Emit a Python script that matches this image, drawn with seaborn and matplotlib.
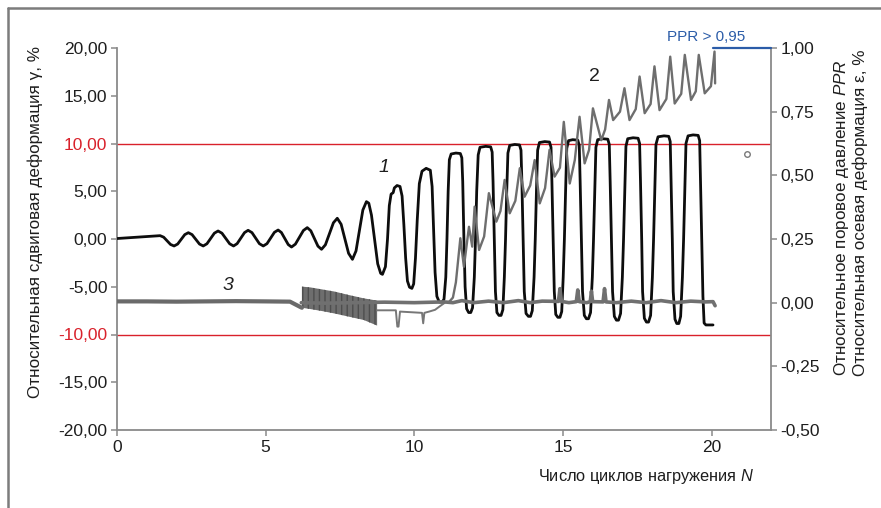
import matplotlib
matplotlib.use("Agg")
import matplotlib.pyplot as plt
from matplotlib.lines import Line2D
from matplotlib.ticker import FuncFormatter, FixedLocator
import seaborn as sns
import pandas as pd

# ---------------- data ----------------
# Curve 1: shear strain gamma, % (left axis) vs number of loading cycles N
shear_N = [0.00, 0.50, 1.00, 1.45,
           1.57, 1.685, 1.80, 1.92, 2.04, 2.16, 2.28, 2.40,
           2.525, 2.65, 2.775, 2.90, 3.025, 3.15, 3.275, 3.40,
           3.53, 3.66, 3.79, 3.92, 4.04, 4.165, 4.29, 4.41,
           4.54, 4.665, 4.79, 4.92, 5.045, 5.17, 5.295, 5.42,
           5.53, 5.645, 5.76, 5.87, 6.00, 6.135, 6.27, 6.40,
           6.52, 6.64, 6.76, 6.88, 7.01, 7.145, 7.28, 7.41,
           7.54, 7.665, 7.79, 7.92, 8.04, 8.155, 8.27, 8.39, 8.47,
           8.56, 8.66, 8.77, 8.87, 8.93,
           9.03, 9.10, 9.16, 9.22, 9.29, 9.33, 9.42, 9.52,
           9.59, 9.65, 9.71, 9.77, 9.84, 9.92,
           9.98, 10.04, 10.10, 10.17, 10.26, 10.40, 10.54,
           10.60, 10.65, 10.70, 10.76, 10.84, 10.94, 11.00,
           11.06, 11.10, 11.14, 11.18, 11.24, 11.40, 11.55, 11.60, 11.63, 11.67, 11.71, 11.76, 11.83, 11.90, 11.96,
           12.02, 12.06, 12.10, 12.15, 12.21, 12.40, 12.57, 12.62, 12.65, 12.69, 12.73, 12.78, 12.85, 12.92, 12.98,
           13.03, 13.07, 13.11, 13.15, 13.21, 13.38, 13.54, 13.59, 13.62, 13.66, 13.70, 13.76, 13.84, 13.91, 13.97,
           14.03, 14.07, 14.11, 14.15, 14.21, 14.39, 14.55, 14.60, 14.63, 14.67, 14.71, 14.76, 14.83, 14.90, 14.96,
           15.01, 15.05, 15.09, 15.13, 15.19, 15.33, 15.50, 15.55, 15.58, 15.62, 15.66, 15.72, 15.79, 15.86, 15.93,
           15.99, 16.03, 16.07, 16.11, 16.17, 16.34, 16.51, 16.56, 16.59, 16.63, 16.67, 16.73, 16.80, 16.87, 16.94,
           17.00, 17.04, 17.08, 17.12, 17.18, 17.36, 17.53, 17.58, 17.61, 17.65, 17.68, 17.74, 17.81, 17.88, 17.95,
           18.01, 18.05, 18.09, 18.13, 18.20, 18.40, 18.56, 18.61, 18.64, 18.68, 18.71, 18.77, 18.83, 18.90, 18.96,
           19.02, 19.06, 19.10, 19.14, 19.21, 19.38, 19.55, 19.60, 19.63, 19.67, 19.71, 19.75, 19.81, 20.05]
shear_gamma = [0.05, 0.15, 0.25, 0.35,
               0.19, -0.19, -0.57, -0.73, -0.53, -0.035, 0.46, 0.66,
               0.46, -0.035, -0.53, -0.73, -0.50, 0.055, 0.61, 0.84,
               0.61, 0.055, -0.50, -0.73, -0.49, 0.09, 0.67, 0.91,
               0.67, 0.09, -0.49, -0.73, -0.49, 0.105, 0.70, 0.94,
               0.68, 0.05, -0.58, -0.84, -0.54, 0.175, 0.89, 1.19,
               0.86, 0.055, -0.75, -1.08, -0.61, 0.545, 1.70, 2.17,
               1.54, 0.02, -1.50, -2.13, -1.25, 0.89, 3.03, 3.91, 3.75,
               2.5, 0.1, -2.6, -3.6, -3.70,
               -2.9, 0.0, 3.5, 4.7, 4.85, 5.35, 5.6, 5.5,
               4.5, 1.5, -2.0, -4.4, -5.05, -5.17,
               -4.7, -2.0, 2.0, 5.8, 7.1, 7.4, 7.2,
               5.5, 1.0, -3.5, -6.0, -6.6, -6.6, -6.3,
               -4.0, 0.0, 5.0, 8.3, 8.9, 9.0, 8.95, 8.5, 6.0, 0.0, -5.0, -7.3, -7.7, -7.7, -7.2,
               -4.0, 0.0, 5.0, 8.8, 9.6, 9.7, 9.65, 9.1, 6.0, 0.0, -5.5, -7.7, -8.0, -8.0, -7.4,
               -4.0, 0.0, 5.0, 9.0, 9.8, 9.9, 9.85, 9.3, 6.0, 0.0, -5.5, -7.8, -8.1, -8.1, -7.5,
               -4.0, 0.0, 5.0, 9.3, 10.1, 10.2, 10.15, 9.6, 6.0, 0.0, -5.5, -7.9, -8.2, -8.2, -7.6,
               -4.0, 0.0, 5.0, 9.5, 10.3, 10.4, 10.35, 9.8, 6.0, 0.0, -5.5, -8.0, -8.35, -8.35, -7.7,
               -4.0, 0.0, 5.0, 9.6, 10.4, 10.5, 10.45, 9.9, 6.0, 0.0, -5.5, -8.1, -8.5, -8.5, -7.8,
               -4.0, 0.0, 5.0, 9.7, 10.5, 10.6, 10.55, 10.0, 6.0, 0.0, -5.5, -8.3, -8.7, -8.7, -8.0,
               -4.0, 0.0, 5.0, 9.9, 10.7, 10.8, 10.75, 10.2, 6.0, 0.0, -5.5, -8.4, -8.85, -8.85, -8.1,
               -4.0, 0.0, 5.0, 10.0, 10.8, 10.9, 10.85, 10.3, 6.0, 0.0, -6.0, -8.8, -9.0, -9.0]

# Curve 2: pore pressure ratio PPR (right axis)
ppr_N = [11.15, 11.30, 11.40, 11.55, 11.67, 11.84, 11.95, 12.03, 12.18, 12.35, 12.51,
         12.76, 12.90, 13.04, 13.21, 13.40, 13.55, 13.71, 13.90, 14.05, 14.22,
         14.40, 14.55, 14.72, 14.90, 15.03, 15.23, 15.40, 15.56, 15.73, 15.88,
         16.01, 16.29, 16.42, 16.55, 16.69, 16.92, 17.07, 17.24, 17.45, 17.58,
         17.75, 17.95, 18.08, 18.25, 18.48, 18.61, 18.76, 18.98, 19.10, 19.31,
         19.47, 19.57, 19.77, 19.98, 20.10, 20.12]
ppr = [0.00, 0.02, 0.08, 0.253, 0.141, 0.298, 0.22, 0.377, 0.207, 0.26, 0.43,
       0.318, 0.36, 0.482, 0.351, 0.40, 0.528, 0.416, 0.46, 0.56, 0.39,
       0.45, 0.60, 0.495, 0.53, 0.71, 0.468, 0.56, 0.73, 0.547, 0.60,
       0.763, 0.638, 0.68, 0.796, 0.717, 0.75, 0.842, 0.717, 0.76, 0.888,
       0.744, 0.78, 0.928, 0.756, 0.80, 0.966, 0.782, 0.82, 0.973, 0.796,
       0.83, 0.973, 0.822, 0.85, 0.986, 0.861]

# Curve 3: axial strain epsilon, % (right axis)
axial_N = [0.0, 1.0, 2.0, 3.0, 4.0, 5.0, 5.82, 6.15, 6.22]
axial_eps = [0.005, 0.005, 0.004, 0.005, 0.006, 0.005, 0.004, -0.016, -0.02]
axial_lower_N = [8.75, 9.38, 9.43, 9.47, 9.52, 10.26, 10.30, 10.34, 10.50, 10.70, 10.85, 11.03]
axial_lower_eps = [-0.03, -0.03, -0.094, -0.094, -0.035, -0.04, -0.081, -0.04, -0.035, -0.028, -0.015, 0.0]
axial_base_N = [6.20, 7.0, 8.0, 9.0, 10.0, 11.0, 11.3, 11.6, 12.0, 12.5, 13.0, 13.5,
                13.9, 14.3, 14.85, 14.90, 14.95, 15.2, 15.45, 15.50, 15.55, 15.8,
                15.92, 15.96, 16.0, 16.35, 16.40, 16.45, 16.8, 17.3, 17.8, 18.3,
                18.8, 19.3, 19.8, 20.05, 20.12]
axial_base_eps = [0.0, -0.002, 0.0, 0.002, 0.0, 0.003, 0.0, 0.008, 0.0, 0.006, 0.0, 0.008,
                  0.0, 0.006, 0.005, 0.055, 0.005, 0.0, 0.004, 0.05, 0.004, 0.0,
                  0.004, 0.045, 0.004, 0.003, 0.055, 0.003, 0.0, 0.006, 0.0, 0.008,
                  0.0, 0.006, 0.003, 0.004, -0.012]
band_N = [6.22, 6.5, 6.9, 7.3, 7.8, 8.3, 8.75]
band_top = [0.063, 0.06, 0.052, 0.044, 0.03, 0.017, 0.008]
band_bottom = [-0.02, -0.025, -0.033, -0.042, -0.055, -0.068, -0.09]

gamma_ticks = [-20, -15, -10, -5, 0, 5, 10, 15, 20]
eps_ticks = [-0.5, -0.25, 0.0, 0.25, 0.5, 0.75, 1.0]
n_ticks = [0, 5, 10, 15, 20]
limit_gamma = [10, -10]
odd_point_N = [21.2]
odd_point_gamma = [8.9]

# ---------------- style ----------------
sns.set_theme(style="white")
plt.rcParams["font.family"] = ["Liberation Sans", "DejaVu Sans"]
plt.rcParams["mathtext.fontset"] = "custom"
plt.rcParams["mathtext.rm"] = "Liberation Sans"
plt.rcParams["mathtext.it"] = "Liberation Sans:italic"

GRAY_AX = "#8a8a8a"
TXT = "#1e1e1e"
RED = "#d9212b"
BLUE = "#2b5ca8"
TICK_FS = 12.5
LAB_FS = 12.3

fig = plt.figure(figsize=(8.81, 5.08), dpi=100)
ax = fig.add_axes([117 / 881, 1 - 430 / 508, (771 - 117) / 881, (430 - 48) / 508])
ax2 = ax.twinx()

ax.set_xlim(0, 22)
ax.set_ylim(-20, 20)
ax2.set_ylim(-0.5, 1.0)

# limit lines
for g in limit_gamma:
    ax.axhline(g, color=RED, lw=1.0, zorder=1)

# curve 1
df1 = pd.DataFrame({"N": shear_N, "gamma": shear_gamma})
sns.lineplot(data=df1, x="N", y="gamma", sort=False, estimator=None, ax=ax,
             color="#0d0d0d", lw=2.0, zorder=3)

# curve 3 (axial strain)
ax2.fill_between(band_N, band_bottom, band_top, facecolor="#6e6e6e", edgecolor="#4e4e4e",
                 hatch="|||", lw=0.0, zorder=2)
df3 = pd.DataFrame({"N": axial_N, "eps": axial_eps})
sns.lineplot(data=df3, x="N", y="eps", sort=False, estimator=None, ax=ax2,
             color="#6a6a6a", lw=3.0, zorder=2)
df3b = pd.DataFrame({"N": axial_base_N, "eps": axial_base_eps})
sns.lineplot(data=df3b, x="N", y="eps", sort=False, estimator=None, ax=ax2,
             color="#707070", lw=2.6, zorder=4)
df3c = pd.DataFrame({"N": axial_lower_N, "eps": axial_lower_eps})
sns.lineplot(data=df3c, x="N", y="eps", sort=False, estimator=None, ax=ax2,
             color="#777777", lw=1.4, zorder=2)

# curve 2 (PPR)
df2 = pd.DataFrame({"N": ppr_N, "ppr": ppr})
sns.lineplot(data=df2, x="N", y="ppr", sort=False, estimator=None, ax=ax2,
             color="#6e6e6e", lw=1.7, zorder=3)

# PPR limit marker
ax2.plot([20.05, 22.0], [1.0, 1.0], color=BLUE, lw=1.6, clip_on=False, zorder=5)
ax2.text(19.83, 1.0 + 0.043, "PPR > 0,95", color=BLUE, fontsize=11,
         ha="center", va="center", clip_on=False)

# odd point
ax.plot(odd_point_N, odd_point_gamma, "o", ms=4, mfc="white", mec="#7a7a7a", mew=1.0,
        clip_on=False, zorder=5)

# curve labels
ax.text(8.97, 7.5, "1", fontsize=14, style="italic", color=TXT, ha="center", va="center")
ax.text(16.07, 17.0, "2", fontsize=14, color=TXT, ha="center", va="center")
ax.text(3.73, -4.9, "3", fontsize=14, style="italic", color=TXT, ha="center", va="center")

# axes formatting
def comma2(v, pos=None):
    return f"{v:.2f}".replace(".", ",")

for a in (ax, ax2):
    a.spines["top"].set_visible(False)
    a.set_xlabel("")
    a.set_ylabel("")

ax.spines["right"].set_visible(False)
ax.spines["left"].set_color(GRAY_AX)
ax.spines["bottom"].set_color(GRAY_AX)
ax.spines["left"].set_linewidth(1.3)
ax.spines["bottom"].set_linewidth(1.3)
ax2.spines["left"].set_visible(False)
ax2.spines["bottom"].set_visible(False)
ax2.spines["right"].set_color(GRAY_AX)
ax2.spines["right"].set_linewidth(1.3)

ax.xaxis.set_major_locator(FixedLocator(n_ticks))
ax.set_xticklabels([str(n) for n in n_ticks])
ax.yaxis.set_major_locator(FixedLocator(gamma_ticks))
ax.yaxis.set_major_formatter(FuncFormatter(comma2))
ax2.yaxis.set_major_locator(FixedLocator(eps_ticks))
ax2.yaxis.set_major_formatter(FuncFormatter(comma2))

ax.tick_params(axis="both", which="major", direction="out", length=4, width=1.1,
               color=GRAY_AX, labelsize=TICK_FS, labelcolor=TXT, pad=3,
               left=True, bottom=True)
ax2.tick_params(axis="y", which="major", direction="out", length=4, width=1.1,
                color=GRAY_AX, labelsize=TICK_FS, labelcolor=TXT, pad=3, right=True)
for lab, v in zip(ax.get_yticklabels(), gamma_ticks):
    if abs(v) == 10:
        lab.set_color(RED)

ax.set_xlabel("Число циклов нагружения $\\it{N}$", fontsize=11.8, color=TXT)
ax.xaxis.set_label_coords(0.809, -0.097)
ax.set_ylabel("Относительная сдвиговая деформация γ, %", fontsize=LAB_FS, color=TXT)
ax.yaxis.set_label_coords(-0.113, 0.545)
ax2.set_ylabel("Относительное поровое давление $\\it{PPR}$\nОтносительная осевая деформация ε, %",
               fontsize=LAB_FS, color=TXT, multialignment="left", linespacing=1.1)
ax2.yaxis.set_label_coords(1.093, 0.57)

# outer frame (top and left edges)
fig.add_artist(Line2D([7.5 / 881, 1.0], [1 - 7.5 / 508, 1 - 7.5 / 508],
                      transform=fig.transFigure, color="#7c7c7c", lw=1.8))
fig.add_artist(Line2D([7.5 / 881, 7.5 / 881], [0.0, 1 - 7.5 / 508],
                      transform=fig.transFigure, color="#7c7c7c", lw=1.8))

fig.savefig("out.png", dpi=100)
